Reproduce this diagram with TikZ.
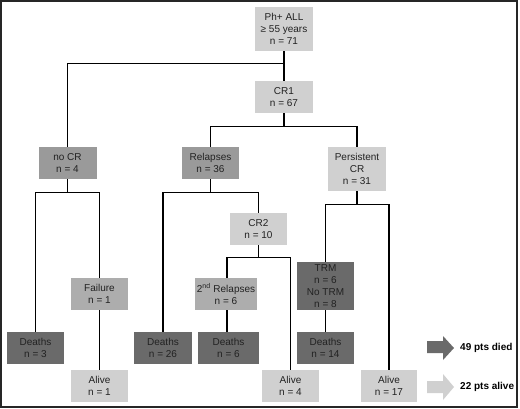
\documentclass[tikz,border=0pt]{standalone}
\usepackage{fontspec}
\setmainfont{Liberation Sans}
\definecolor{lightg}{HTML}{D0D0D0}
\definecolor{midg}{HTML}{9A9A9A}
\definecolor{medlg}{HTML}{ADADAD}
\definecolor{darkg}{HTML}{6A6A6A}
\definecolor{txt}{HTML}{222222}
\begin{document}
\begin{tikzpicture}[x=1pt,y=-1pt,
  box/.style={inner sep=0pt, minimum width=57pt, minimum height=32pt, align=center,
    font=\fontsize{10}{12}\selectfont, text=txt},
  lbox/.style={box, fill=lightg},
  mbox/.style={box, fill=midg},
  mlbox/.style={box, fill=medlg},
  dbox/.style={box, fill=darkg},
  conn/.style={line width=1.2pt, black},
  lab/.style={anchor=west, inner sep=0pt, font=\fontsize{10}{12}\selectfont\bfseries, text=black}]
\useasboundingbox (0,0) rectangle (520,409);
\draw[line width=1.5pt, black!85] (1,1) rectangle (517,407);

\node[lbox, minimum width=58pt, minimum height=44pt] (root) at (284,29) {Ph+ ALL\\≥ 55 years\\n = 71};
\node[lbox, minimum width=58pt] (cr1) at (284,97) {CR1\\n = 67};
\node[mbox, minimum width=58pt] (nocr) at (67.5,163) {no CR\\n = 4};
\node[mbox] (rel) at (210.5,163) {Relapses\\n = 36};
\node[lbox, minimum width=58pt, minimum height=44pt] (pcr) at (357,169) {Persistent\\CR\\n = 31};
\node[lbox] (cr2) at (258.5,229) {CR2\\n = 10};
\node[mlbox] (fail) at (99.5,294) {Failure\\n = 1};
\node[mlbox, minimum width=62pt] (rel2) at (226,294) {2\textsuperscript{nd} Relapses\\n = 6};
\node[dbox, minimum height=48pt] (trm) at (325.5,286) {TRM\\n = 6\\No TRM\\n = 8};
\node[dbox] (d3) at (35.5,348) {Deaths\\n = 3};
\node[dbox, minimum width=58pt] (d26) at (163,348) {Deaths\\n = 26};
\node[dbox, minimum width=61pt] (d6) at (228.5,348) {Deaths\\n = 6};
\node[dbox] (d14) at (325.5,348) {Deaths\\n = 14};
\node[lbox] (a1) at (99.5,386) {Alive\\n = 1};
\node[lbox] (a4) at (290.5,386) {Alive\\n = 4};
\node[lbox, minimum width=56pt] (a17) at (389,386) {Alive\\n = 17};

% connectors
\draw[conn] (root) -- (cr1);
\draw[conn] (root.south) -- ++(0,12) -| (nocr.north);
\draw[conn] (cr1.south) -- ++(0,13) -| (rel.north);
\draw[conn] (cr1.south) -- ++(0,13) -| (pcr.north);
\draw[conn] (nocr.south) -- ++(0,13) -| (d3.north);
\draw[conn] (nocr.south) -- ++(0,13) -| (fail.north);
\draw[conn] (rel.south) -- ++(0,13) -| ([xshift=-47.5pt]rel.south |- d26.north);
\draw[conn] (rel.south) -- ++(0,13) -| (cr2.north);
\draw[conn] (cr2.south) -- ++(0,12) -| ([xshift=1pt]rel2.north);
\draw[conn] (cr2.south) -- ++(0,12) -| (a4.north);
\draw[conn] (pcr.south) -- ++(0,13) -| (trm.north);
\draw[conn] (pcr.south) -- ++(0,13) -| (a17.north);
\draw[conn] (fail) -- (a1);
\draw[conn] ([xshift=1pt]rel2.south) -- ([xshift=1pt]rel2.south |- d6.north);
\draw[conn] (trm) -- (d14);

% legend arrows
\fill[darkg] (427,341) -- (443,341) -- (443,336) -- (454,348) -- (443,360) -- (443,353) -- (427,353) -- cycle;
\fill[lightg] (427,381) -- (443,381) -- (443,374) -- (454,387) -- (443,400) -- (443,393) -- (427,393) -- cycle;
\node[lab] (died) at (460,348) {49 pts died};
\node[lab] (alive) at (460,387) {22 pts alive};
\end{tikzpicture}
\end{document}
